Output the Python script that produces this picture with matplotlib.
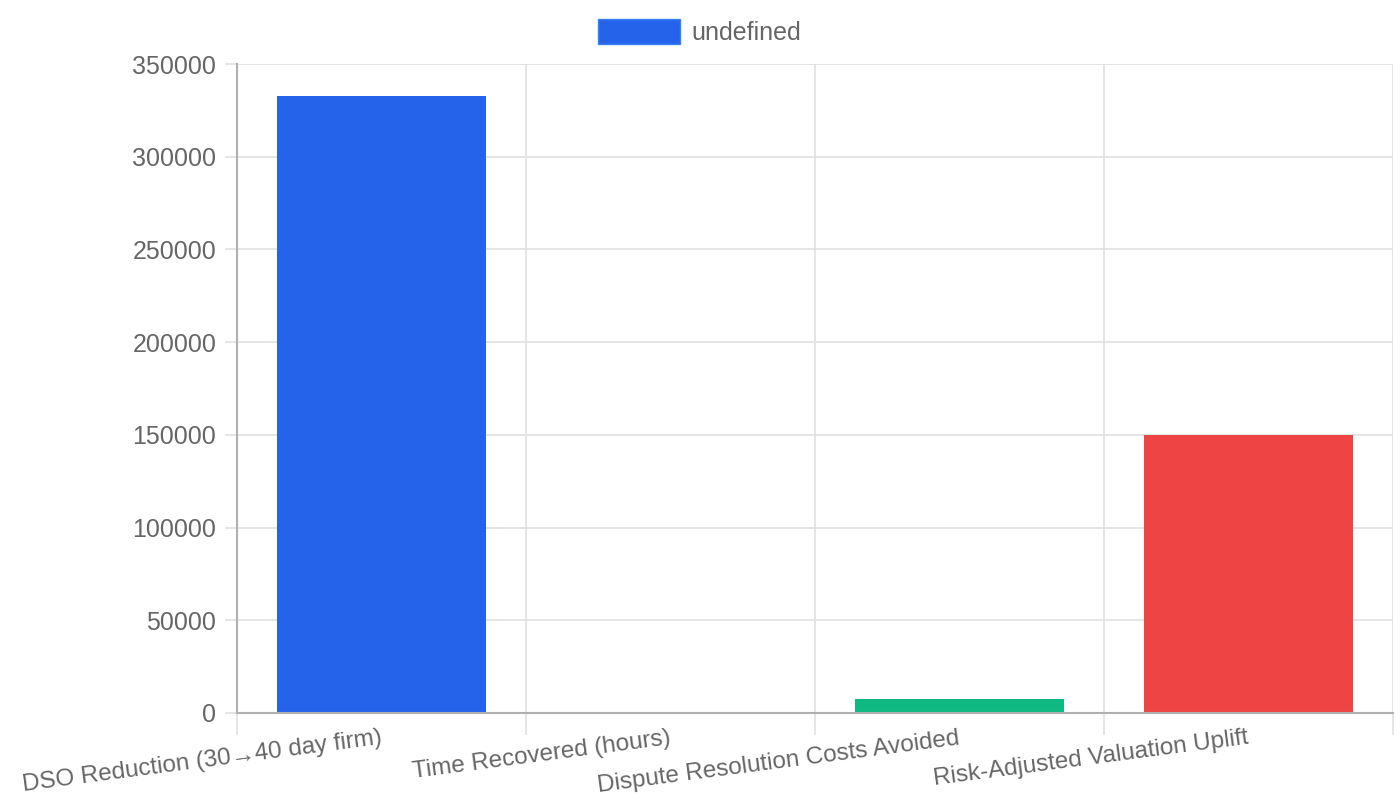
import matplotlib
matplotlib.use('Agg')
import matplotlib.pyplot as plt
from matplotlib.patches import Rectangle

plt.rcParams['font.family'] = ['Liberation Sans', 'DejaVu Sans']

categories = ['DSO Reduction (30\u219240 day firm)', 'Time Recovered (hours)',
              'Dispute Resolution Costs Avoided', 'Risk-Adjusted Valuation Uplift']
values = [333000, 120, 7500, 150000]
colors = ['#2563eb', '#f59e0b', '#10b981', '#ef4444']
yticks = [0, 50000, 100000, 150000, 200000, 250000, 300000, 350000]

txt = '#666666'
fig = plt.figure(figsize=(14, 8), dpi=100)
ax = fig.add_axes([237 / 1400, 1 - 713 / 800, (1393 - 237) / 1400, (713 - 64) / 800])

x = list(range(len(categories)))
ax.bar(x, values, width=0.72, color=colors, zorder=3)

ax.set_xlim(-0.5, len(categories) - 0.5)
ax.set_ylim(0, 350000)
ax.set_yticks(yticks)
ax.set_yticklabels([str(v) for v in yticks])

# category grid on the boundaries, like chart.js offset grid
bounds = [i - 0.5 for i in range(len(categories) + 1)]
for b in bounds:
    ax.axvline(b, color='#e0e0e0', lw=1.2, zorder=1)
ax.yaxis.grid(True, color='#e0e0e0', lw=1.2, zorder=1)
ax.set_axisbelow(True)

ax.set_xticks(bounds, minor=True)
ax.set_xticks(x)
ax.set_xticklabels(categories, rotation=7.5, ha='right', va='center',
                   rotation_mode='anchor', fontsize=17.5, color=txt)
ax.tick_params(axis='x', which='major', length=0, pad=18)
ax.tick_params(axis='x', which='minor', length=16, color='#e0e0e0', width=1.2)
ax.tick_params(axis='y', length=9, color='#e0e0e0', width=1.2, labelsize=18,
               labelcolor=txt, pad=6)

for s in ['top', 'right']:
    ax.spines[s].set_visible(False)
for s in ['left', 'bottom']:
    ax.spines[s].set_color('#b0b0b0')
    ax.spines[s].set_linewidth(1.5)
    ax.spines[s].set_zorder(4)

# legend
fig.patches.append(Rectangle((598 / 1400, 1 - 44 / 800), 82 / 1400, 25 / 800,
                             transform=fig.transFigure, facecolor=colors[0],
                             edgecolor='#3b82f6', lw=1))
fig.text(691 / 1400, 1 - 33 / 800, 'undefined', fontsize=18, color=txt,
         va='center', ha='left')

fig.savefig('out.png', dpi=100)
